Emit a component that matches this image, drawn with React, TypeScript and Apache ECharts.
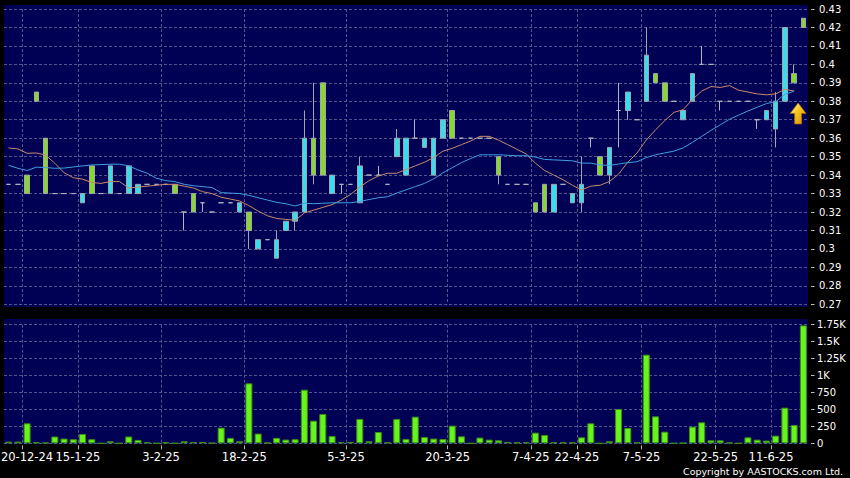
import React, { useEffect, useRef } from 'react';
import * as echarts from 'echarts';

// Daily sessions, oldest first (OHLC)
const opens = [
  0.335, 0.335, 0.34, 0.385, 0.36, 0.33, 0.33, 0.33, 0.325, 0.345,
  0.33, 0.33, 0.33, 0.33, 0.33, 0.335, 0.335, 0.335, 0.335, 0.32,
  0.33, 0.325, 0.32, 0.325, 0.325, 0.32, 0.32, 0.30, 0.305, 0.295,
  0.31, 0.315, 0.32, 0.36, 0.39, 0.33, 0.335, 0.335, 0.325, 0.34,
  0.34, 0.335, 0.35, 0.34, 0.36, 0.355, 0.34, 0.36, 0.375, 0.36,
  0.36, 0.36, 0.36, 0.35, 0.335, 0.335, 0.335, 0.325, 0.335, 0.32,
  0.335, 0.325, 0.325, 0.36, 0.35, 0.34, 0.375, 0.375, 0.37, 0.38,
  0.395, 0.39, 0.38, 0.37, 0.38, 0.40, 0.40, 0.38, 0.38, 0.38,
  0.38, 0.37, 0.37, 0.365, 0.38, 0.395, 0.425,
];
const closes = [
  0.335, 0.335, 0.33, 0.38, 0.33, 0.33, 0.33, 0.33, 0.33, 0.33,
  0.33, 0.345, 0.33, 0.345, 0.335, 0.335, 0.335, 0.335, 0.33, 0.32,
  0.32, 0.325, 0.32, 0.325, 0.325, 0.325, 0.31, 0.305, 0.305, 0.305,
  0.315, 0.32, 0.36, 0.34, 0.34, 0.34, 0.335, 0.335, 0.345, 0.34,
  0.34, 0.335, 0.36, 0.36, 0.36, 0.36, 0.36, 0.37, 0.36, 0.36,
  0.36, 0.36, 0.36, 0.34, 0.335, 0.335, 0.335, 0.32, 0.32, 0.335,
  0.335, 0.33, 0.335, 0.36, 0.34, 0.355, 0.375, 0.385, 0.37, 0.405,
  0.39, 0.38, 0.38, 0.375, 0.395, 0.40, 0.40, 0.38, 0.38, 0.38,
  0.38, 0.37, 0.375, 0.38, 0.42, 0.39, 0.42,
];
const lows = [
  0.335, 0.335, 0.33, 0.38, 0.33, 0.33, 0.33, 0.33, 0.325, 0.33,
  0.33, 0.33, 0.33, 0.33, 0.33, 0.335, 0.335, 0.335, 0.33, 0.31,
  0.32, 0.32, 0.32, 0.325, 0.325, 0.32, 0.30, 0.30, 0.305, 0.295,
  0.31, 0.31, 0.32, 0.335, 0.34, 0.33, 0.33, 0.335, 0.325, 0.34,
  0.34, 0.335, 0.35, 0.34, 0.36, 0.355, 0.34, 0.36, 0.36, 0.36,
  0.36, 0.36, 0.36, 0.335, 0.335, 0.335, 0.335, 0.32, 0.32, 0.32,
  0.335, 0.325, 0.32, 0.355, 0.34, 0.335, 0.355, 0.37, 0.37, 0.38,
  0.39, 0.38, 0.38, 0.37, 0.38, 0.40, 0.40, 0.375, 0.38, 0.38,
  0.38, 0.365, 0.37, 0.355, 0.38, 0.39, 0.42,
];
const highs = [
  0.335, 0.335, 0.34, 0.385, 0.36, 0.33, 0.33, 0.33, 0.33, 0.345,
  0.33, 0.345, 0.33, 0.345, 0.335, 0.335, 0.335, 0.335, 0.335, 0.32,
  0.33, 0.325, 0.32, 0.325, 0.325, 0.325, 0.32, 0.305, 0.305, 0.31,
  0.315, 0.32, 0.375, 0.39, 0.39, 0.34, 0.335, 0.335, 0.35, 0.34,
  0.345, 0.335, 0.365, 0.36, 0.37, 0.36, 0.36, 0.37, 0.375, 0.36,
  0.36, 0.36, 0.36, 0.35, 0.335, 0.335, 0.335, 0.325, 0.335, 0.335,
  0.335, 0.33, 0.35, 0.36, 0.35, 0.355, 0.39, 0.385, 0.37, 0.42,
  0.395, 0.39, 0.38, 0.375, 0.395, 0.41, 0.40, 0.38, 0.38, 0.38,
  0.38, 0.37, 0.375, 0.385, 0.42, 0.40, 0.425,
];
const volumes = [
  25, 25, 295, 15, 10, 100, 70, 60, 138, 60,
  0, 30, 0, 100, 50, 15, 0, 15, 0, 30,
  20, 20, 5, 231, 80, 30, 885, 143, 10, 80,
  55, 60, 791, 334, 433, 108, 15, 20, 359, 30,
  167, 15, 359, 64, 393, 93, 70, 64, 260, 103,
  0, 84, 54, 44, 20, 15, 15, 157, 123, 15,
  15, 15, 88, 295, 0, 30, 506, 226, 15, 1308,
  398, 172, 0, 5, 246, 310, 44, 44, 10, 0,
  88, 54, 40, 113, 526, 270, 1740,
];
// Moving-average values for the first sessions, whose windows start before the chart
const ma10Lead = [0.3547, 0.3542, 0.3518, 0.352, 0.3509, 0.3464, 0.3413, 0.3386, 0.3378];
const ma20Lead = [
  0.3453, 0.3437, 0.3425, 0.3443, 0.3441, 0.3437, 0.3438, 0.3444, 0.345, 0.3455,
  0.3457, 0.3459, 0.3459, 0.345, 0.3428, 0.341, 0.3383, 0.337, 0.3365,
];
// Date labels and the session each one marks
const dateLabels = ['20-12-24', '15-1-25', '3-2-25', '18-2-25', '5-3-25', '20-3-25', '7-4-25', '22-4-25', '7-5-25', '22-5-25', '11-6-25'];
const dateLabelSessions = [2, 8, 17, 26, 37, 48, 57, 62, 69, 77, 83];

const FONT = '"DejaVu Sans", Verdana, sans-serif';
const GRID_LINE = { color: '#54548e', width: 1, type: [3, 2] as any };

function movingAverage(values: number[], n: number, lead: number[]) {
  // the latest (running) session is not included in the averages
  const last = values.length - 2;
  return values.map((_, i) => {
    if (i > last) return '-';
    if (i < lead.length) return lead[i];
    let s = 0;
    for (let k = i - n + 1; k <= i; k++) s += values[k];
    return +(s / n).toFixed(5);
  });
}

export default function App() {
  const ref = useRef<HTMLDivElement>(null);
  useEffect(() => {
    if (!ref.current) return;
    const chart = echarts.init(ref.current, undefined, { renderer: 'svg' });
    const sessions = closes.map((_, i) => String(i));
    const boundaries: any[] = Array(closes.length + 1).fill('');
    dateLabelSessions.forEach((s, k) => {
      // the first label sits at the left edge: nudge it inside the picture
      boundaries[s] = k === 0
        ? { value: dateLabels[k], textStyle: { padding: [0, 0, 0, 9] } }
        : dateLabels[k];
    });
    const isLabelled = (_i: number, v: string) => v !== '';
    const ohlc = opens.map((o, i) => [o, closes[i], lows[i], highs[i]]);
    const ma10 = movingAverage(closes, 10, ma10Lead);
    const ma20 = movingAverage(closes, 20, ma20Lead);

    const arrowFill = new echarts.graphic.LinearGradient(0, 0, 1, 1, [
      { offset: 0, color: '#fff6b0' },
      { offset: 0.45, color: '#f8c41c' },
      { offset: 1, color: '#d58a00' },
    ]);

    chart.setOption({
      animation: false,
      backgroundColor: '#000000',
      graphic: {
        elements: [
          { type: 'rect', z: -10, shape: { x: 4, y: 5, width: 804, height: 302 }, style: { fill: '#000055' }, silent: true },
          { type: 'rect', z: -10, shape: { x: 4, y: 319, width: 804, height: 125 }, style: { fill: '#000055' }, silent: true },
          {
            type: 'text', x: 843, y: 471,
            style: { text: 'Copyright by AASTOCKS.com Ltd.', fill: '#ffffff', font: `9.5px ${FONT}`, align: 'right', verticalAlign: 'middle', textAlign: 'right', textVerticalAlign: 'middle' } as any,
          },
        ],
      },
      grid: [
        { left: 4, right: 42, top: 9, height: 295.3, outerBoundsMode: 'none' } as any,
        { left: 4, right: 42, top: 324.7, height: 118.6, outerBoundsMode: 'none' } as any,
      ],
      xAxis: [
        { type: 'category', gridIndex: 0, data: sessions, boundaryGap: true, show: false, position: 'top' },
        {
          type: 'category', gridIndex: 0, data: boundaries, boundaryGap: false, position: 'bottom',
          axisLine: { show: false }, axisTick: { show: false }, axisLabel: { show: false },
          splitLine: { show: true, interval: isLabelled, lineStyle: GRID_LINE },
        },
        { type: 'category', gridIndex: 1, data: sessions, boundaryGap: true, show: false, position: 'top' },
        {
          type: 'category', gridIndex: 1, data: boundaries, boundaryGap: false, position: 'bottom', offset: 2,
          axisLine: { show: false },
          axisTick: { show: true, interval: isLabelled, length: 4, lineStyle: { color: '#b0b0b0' } },
          axisLabel: { show: true, interval: isLabelled, margin: 6, color: '#ffffff', fontSize: 11.5, fontFamily: FONT },
          splitLine: { show: true, interval: isLabelled, lineStyle: GRID_LINE },
        },
      ],
      yAxis: [
        {
          type: 'value', gridIndex: 0, position: 'right', min: 0.27, max: 0.43, interval: 0.01, offset: 3,
          axisLine: { show: false },
          axisTick: { show: true, length: 3.5, lineStyle: { color: '#c0c0c0' } },
          axisLabel: { color: '#ffffff', fontSize: 10, margin: 8, fontFamily: FONT },
          splitLine: { show: true, lineStyle: GRID_LINE },
        },
        {
          type: 'value', gridIndex: 1, position: 'right', min: 0, max: 1750, interval: 250, offset: 3,
          axisLine: { show: false },
          axisTick: { show: true, length: 3.5, lineStyle: { color: '#c0c0c0' } },
          axisLabel: {
            color: '#ffffff', fontSize: 10, margin: 6, fontFamily: FONT,
            formatter: (v: number) => (v >= 1000 ? `${v / 1000}K` : `${v}`),
          },
          splitLine: { show: true, lineStyle: GRID_LINE },
        },
      ],
      series: [
        {
          type: 'candlestick', xAxisIndex: 0, yAxisIndex: 0, data: ohlc, barWidth: 5,
          itemStyle: {
            color: '#33dfec', color0: '#86d82a',
            borderColor: '#a4a4b0', borderColor0: '#a4a4b0', borderColorDoji: '#b4b4c0', borderWidth: 1,
          },
          markPoint: {
            silent: true,
            label: { show: false },
            data: [{
              coord: [85, 0.3734],
              symbol: 'path://M8,0 L16,10.5 L11.5,10.5 L11.5,21 L4.5,21 L4.5,10.5 L0,10.5 Z',
              symbolSize: [16, 21],
              symbolOffset: [4, 0],
              itemStyle: { color: arrowFill, borderColor: '#a86a00', borderWidth: 0.6 },
            }],
          },
        },
        {
          type: 'line', xAxisIndex: 0, yAxisIndex: 0, data: ma10, symbol: 'none',
          lineStyle: { color: '#c98a6c', width: 1 },
        },
        {
          type: 'line', xAxisIndex: 0, yAxisIndex: 0, data: ma20, symbol: 'none',
          lineStyle: { color: '#3f9fe0', width: 1 },
        },
        {
          type: 'bar', xAxisIndex: 2, yAxisIndex: 1, data: volumes, barWidth: 7,
          itemStyle: { color: '#66f41c', borderColor: '#3b8f12', borderWidth: 1 },
        },
      ],
    });
    return () => chart.dispose();
  }, []);
  return (
    <div
      ref={ref}
      style={{ position: 'absolute', left: 0, top: 0, width: 850, height: 478, background: '#000' }}
    />
  );
}
